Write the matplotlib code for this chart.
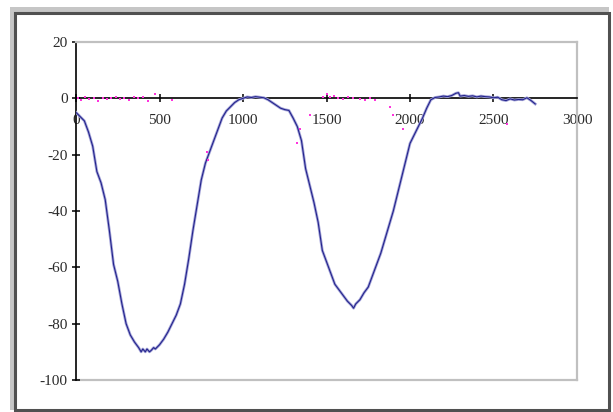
import matplotlib
matplotlib.use("Agg")
import matplotlib.pyplot as plt
from matplotlib.patches import Rectangle

# Blue series (x, y)
blue_x = [0, 25, 50, 75, 100, 125, 150, 175, 200, 225, 250, 275, 300, 325, 350, 375,
          390, 400, 415, 425, 440, 450, 465, 475, 500, 525, 550, 575, 600, 625, 650, 675,
          700, 725, 750, 775, 800, 825, 850, 875, 900, 925, 950, 975, 1000, 1025, 1050,
          1075, 1100, 1125, 1150, 1175, 1200, 1225, 1250, 1275, 1300, 1325, 1350, 1375,
          1400, 1425, 1450, 1475, 1500, 1525, 1550, 1575, 1600, 1625, 1650, 1662, 1675,
          1700, 1725, 1750, 1775, 1800, 1825, 1850, 1875, 1900, 1925, 1950, 1975, 2000,
          2025, 2050, 2075, 2100, 2125, 2150, 2175, 2200, 2225, 2250, 2275, 2290, 2300,
          2325, 2350, 2375, 2400, 2425, 2450, 2475, 2500, 2525, 2550, 2575, 2600, 2625,
          2650, 2675, 2700, 2725, 2750]
blue_y = [-5, -6.5, -8, -12, -17, -26, -30, -36, -47, -59, -65, -73, -80, -84, -86.5, -88.5,
          -90, -89, -90, -89, -90, -89.5, -88.5, -89, -87.5, -85.5, -83, -80, -77, -73, -66, -57,
          -47, -38, -29, -23, -19, -15, -11, -7, -4.5, -3, -1.5, -0.5, 0, 0.5, 0.3,
          0.6, 0.4, 0.2, -0.5, -1.5, -2.5, -3.5, -4, -4.3, -7, -10, -15, -25,
          -31, -37, -44, -54, -58, -62, -66, -68, -70, -72, -73.5, -74.5, -73,
          -71.5, -69, -67, -63, -59, -55, -50, -45, -40, -34, -28, -22, -16,
          -13, -10, -7, -3.5, -0.5, 0.3, 0.5, 0.8, 0.6, 1.0, 1.8, 2.0, 0.8,
          1.0, 0.7, 0.9, 0.5, 0.8, 0.6, 0.5, 0.2, 0.4, -0.5, -0.8, -0.2, -0.6,
          -0.4, -0.5, 0.2, -0.8, -2.0]

# Magenta series (sparse points)
pink_x = [10, 30, 55, 80, 105, 130, 160, 185, 210, 240, 265, 290, 320, 345, 370, 400, 430,
          475, 575, 784, 792, 1321, 1341, 1401, 1480, 1500, 1520, 1545, 1570, 1600, 1630,
          1660, 1700, 1730, 1760, 1790, 1880, 1900, 1960, 2580]
pink_y = [0, -0.5, 0.3, -0.2, 0, -1, 0.2, -0.3, 0, 0.4, -0.2, 0, -0.5, 0.3, 0, 0.5, -0.8,
          1.5, -0.7, -19, -22, -16, -11, -6, 0.5, 1.5, 0.3, 0.8, 0, -0.3, 0.4,
          0, -0.2, -0.5, 0, -0.6, -3, -6, -11, -9]

x_ticks = [0, 500, 1000, 1500, 2000, 2500, 3000]
y_ticks = [-100, -80, -60, -40, -20, 0, 20]

W, H = 613, 412
fig = plt.figure(figsize=(W / 100, H / 100), dpi=100)
fig.patch.set_facecolor("white")

# shadow band (top + left) and framed panel
fig.patches.append(Rectangle((10 / W, 2 / H), (609 - 10) / W, (405 - 2) / H,
                             transform=fig.transFigure, facecolor="#c6c6c6",
                             edgecolor="none", zorder=-2))
fig.patches.append(Rectangle((15 / W, 2 / H), (609 - 15) / W, (399 - 2) / H,
                             transform=fig.transFigure, facecolor="white",
                             edgecolor="#505050", linewidth=2.2, zorder=-1))

ax = fig.add_axes([76 / W, (H - 380) / H, (577 - 76) / W, (380 - 42) / H])
ax.set_xlim(0, 3000)
ax.set_ylim(-100, 20)

ax.plot(blue_x, blue_y, color="#a4a4d8", linewidth=2.0, zorder=3, solid_joinstyle="round")
ax.plot(blue_x, blue_y, color="#23238c", linewidth=0.8, zorder=4)
ax.scatter(pink_x, pink_y, s=3, color="#ff33dd", marker="s", linewidths=0, zorder=5)

for s in ["top", "right"]:
    ax.spines[s].set_color("#c0c0c0")
    ax.spines[s].set_linewidth(1.6)
ax.spines["left"].set_color("black")
ax.spines["left"].set_linewidth(1.2)
ax.spines["bottom"].set_position(("data", 0))
ax.spines["bottom"].set_color("black")
ax.spines["bottom"].set_linewidth(1.2)
ax.axhline(-100, color="#c0c0c0", linewidth=1.6, clip_on=False, zorder=1)

ax.set_xticks(x_ticks)
ax.set_yticks(y_ticks)
ax.set_xticklabels([str(v) for v in x_ticks])
ax.set_yticklabels([str(v) for v in y_ticks])
ax.tick_params(axis="both", direction="inout", length=6, width=1.1, color="black",
               labelsize=11, labelcolor="#2a2a2a")
ax.tick_params(axis="x", pad=8)
ax.tick_params(axis="y", pad=3)
for lab in ax.get_xticklabels() + ax.get_yticklabels():
    lab.set_family(["Liberation Serif", "DejaVu Serif"])

fig.savefig("out.png", dpi=100)
